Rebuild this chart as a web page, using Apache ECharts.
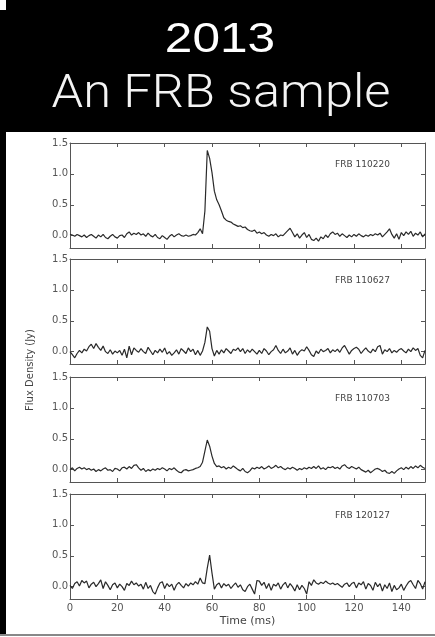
<!DOCTYPE html>
<html>
<head>
<meta charset="utf-8">
<script src="https://cdn.jsdelivr.net/npm/echarts@6/dist/echarts.min.js"></script>
<style>
  html, body { margin: 0; padding: 0; background: #fff; }
  #chart { width: 435px; height: 637px; }
</style>
</head>
<body>
<div id="chart"></div>
<script>
// sample times, 1 ms steps from 0 to 150 ms
const timeMs = Array.from({ length: 151 }, (_, i) => i);

const burstNames = ['FRB 110220', 'FRB 110627', 'FRB 110703', 'FRB 120127'];

const xTicks = [0, 20, 40, 60, 80, 100, 120, 140];
const yTicks = [0, 0.5, 1.0, 1.5];

// flux density (Jy), one value per ms
const flux110220 = [
  0.02, 0.01, -0.01, 0.02, 0.00, -0.02, 0.01, -0.03, 0.00, 0.02,
  -0.01, -0.04, 0.01, -0.02, 0.02, -0.03, -0.05, -0.01, 0.02, -0.02,
  -0.04, 0.00, 0.01, -0.03, 0.03, 0.06, 0.01, 0.04, 0.02, 0.05,
  0.01, 0.03, -0.01, 0.04, 0.00, -0.02, 0.02, -0.03, -0.05, 0.00,
  -0.03, -0.06, -0.01, 0.02, -0.02, 0.01, 0.03, 0.00, -0.01, 0.01,
  -0.01, 0.00, 0.02, 0.01, 0.05, 0.11, 0.03, 0.40, 1.38, 1.25,
  1.02, 0.72, 0.58, 0.50, 0.40, 0.29, 0.25, 0.23, 0.22, 0.19,
  0.17, 0.15, 0.16, 0.13, 0.14, 0.10, 0.08, 0.07, 0.09, 0.04,
  0.06, 0.03, 0.05, 0.01, -0.01, 0.02, 0.00, 0.03, -0.02, 0.01,
  0.00, 0.04, 0.08, 0.12, 0.05, -0.02, 0.03, -0.04, 0.01, 0.05,
  -0.03, 0.02, -0.06, -0.08, -0.04, -0.09, -0.02, -0.05, 0.01, -0.03,
  0.03, 0.06, 0.02, 0.04, -0.01, 0.03, 0.00, -0.03, 0.01, -0.02,
  0.02, -0.01, 0.03, 0.00, -0.02, 0.01, -0.01, 0.02, 0.00, 0.03,
  0.01, 0.04, -0.02, 0.02, 0.06, 0.11, 0.02, -0.04, 0.03, -0.06,
  0.05, 0.00, 0.06, 0.02, 0.07, -0.01, 0.04, 0.01, 0.06, -0.02, 0.03
];

const flux110627 = [
  0.00, -0.05, -0.10, -0.03, 0.02, -0.02, 0.04, 0.01, 0.08, 0.12,
  0.05, 0.13, 0.07, 0.02, 0.09, 0.00, -0.03, 0.03, -0.04, 0.01,
  -0.02, 0.02, -0.06, 0.04, -0.10, 0.09, -0.05, 0.06, 0.02, -0.01,
  0.05, 0.00, -0.03, 0.07, 0.01, -0.05, 0.02, -0.02, 0.04, -0.01,
  0.06, -0.04, 0.00, -0.06, -0.02, 0.03, -0.04, 0.05, 0.01, -0.03,
  0.06, 0.00, 0.04, -0.05, 0.02, -0.06, 0.01, 0.15, 0.40, 0.33,
  0.05, -0.07, 0.02, -0.04, 0.03, -0.02, 0.05, 0.01, -0.03, 0.04,
  0.02, 0.06, 0.00, 0.05, -0.03, 0.03, -0.01, 0.04, 0.00, -0.04,
  0.02, -0.03, 0.05, 0.01, -0.05, 0.00, 0.03, 0.10, 0.02, -0.03,
  0.04, -0.02, 0.01, 0.06, -0.04, 0.02, -0.06, 0.00, 0.03, 0.01,
  0.08, 0.02, -0.05, -0.08, 0.01, -0.03, 0.04, 0.00, 0.02, 0.05,
  -0.02, 0.03, 0.00, 0.04, -0.01, 0.06, 0.10, 0.03, -0.04, 0.02,
  0.05, 0.07, 0.04, -0.03, 0.02, 0.06, 0.01, -0.02, 0.04, 0.00,
  0.08, 0.10, -0.04, 0.03, 0.00, 0.05, -0.02, 0.02, -0.01, 0.03,
  0.05, 0.01, -0.02, 0.04, 0.00, 0.06, 0.02, 0.05, -0.06, -0.10, 0.02
];

const flux110703 = [
  0.00, 0.03, -0.02, 0.02, 0.04, 0.01, 0.03, 0.00, 0.02, -0.01,
  0.01, -0.03, 0.00, -0.02, 0.01, 0.03, -0.01, 0.00, -0.03, 0.02,
  0.01, -0.02, 0.03, 0.04, 0.01, 0.05, 0.02, 0.07, 0.08, 0.03,
  -0.01, 0.02, -0.03, 0.00, -0.02, 0.01, -0.01, 0.02, 0.00, 0.03,
  0.01, -0.02, 0.02, 0.00, 0.03, -0.01, -0.04, -0.05, -0.01, 0.00,
  -0.02, -0.01, 0.00, 0.02, 0.03, 0.05, 0.12, 0.30, 0.48, 0.38,
  0.22, 0.10, 0.05, 0.06, 0.03, 0.05, 0.01, 0.04, 0.02, 0.06,
  0.03, 0.00, -0.02, 0.02, -0.03, -0.05, -0.02, 0.03, 0.01, 0.04,
  0.02, 0.05, 0.01, 0.03, 0.06, 0.02, 0.04, 0.07, 0.03, 0.05,
  0.02, 0.00, 0.03, 0.01, 0.04, 0.02, -0.01, 0.02, 0.00, 0.03,
  0.01, 0.04, 0.02, 0.05, 0.02, 0.06, 0.01, 0.03, 0.00, 0.04,
  0.03, 0.05, 0.02, 0.04, 0.01, 0.06, 0.08, 0.04, 0.02, 0.05,
  0.03, 0.01, 0.04, 0.00, -0.02, -0.04, -0.01, -0.05, -0.02, 0.01,
  0.02, 0.00, -0.03, -0.01, -0.05, -0.06, -0.03, -0.06, -0.02, 0.01,
  0.03, 0.00, 0.04, 0.01, 0.05, 0.02, 0.06, 0.03, 0.07, 0.04, 0.02
];

const flux120127 = [
  0.02, -0.03, 0.05, 0.08, 0.01, 0.10, 0.06, 0.09, -0.02, 0.04,
  0.07, 0.00, 0.05, 0.11, -0.03, 0.08, 0.02, -0.05, 0.03, 0.06,
  -0.02, 0.04, 0.00, -0.06, 0.05, 0.02, 0.09, 0.03, 0.06, 0.01,
  0.04, -0.04, 0.07, -0.03, 0.02, -0.08, -0.12, -0.02, 0.06, 0.08,
  -0.03, 0.05, 0.00, 0.04, -0.06, 0.03, 0.07, 0.02, -0.02, 0.05,
  0.01, 0.06, 0.03, 0.08, 0.04, 0.14, 0.06, 0.05, 0.30, 0.51,
  0.22, -0.04, 0.03, 0.06, -0.02, 0.05, 0.01, 0.04, -0.03, 0.02,
  0.06, -0.01, 0.03, -0.05, -0.08, 0.00, 0.04, -0.04, -0.12, 0.10,
  0.09, 0.02, 0.07, -0.03, 0.05, -0.06, 0.04, 0.01, 0.06, -0.04,
  0.03, 0.07, -0.02, 0.05, 0.00, -0.07, 0.03, -0.05, 0.02, -0.03,
  -0.12, 0.08, 0.02, 0.11, 0.06, 0.04, 0.07, 0.05, 0.09, 0.06,
  0.04, 0.06, 0.03, 0.05, 0.02, -0.01, 0.04, 0.06, 0.00, 0.05,
  0.07, -0.02, 0.06, 0.03, 0.08, -0.04, 0.05, 0.02, -0.06, 0.07,
  0.00, 0.05, -0.07, 0.03, -0.03, 0.06, -0.08, 0.02, -0.05, -0.02,
  0.04, -0.06, 0.01, 0.07, 0.10, 0.03, -0.03, 0.10, 0.05, -0.04, 0.08
];

const fluxSeries = [flux110220, flux110627, flux110703, flux120127];

/* ========================
    Layout
========================= */
const panelTops = [143, 259, 377, 494];
const panelHeight = 105;
const axisColor = '#555';
const labelFont = 'DejaVu Sans';

const chart = echarts.init(document.getElementById('chart'), null, { renderer: 'canvas' });

const grids = [], xAxes = [], yAxes = [], series = [];

panelTops.forEach((top, i) => {
    grids.push({ left: 70, right: 10, top: top, height: panelHeight });
    const isLast = i === panelTops.length - 1;

    ['bottom', 'top'].forEach(pos => {
        xAxes.push({
            type: 'value', gridIndex: i, position: pos,
            min: 0, max: 150,
            axisLine: { show: true, onZero: false, lineStyle: { color: axisColor, width: 1 } },
            axisTick: { show: true, inside: true, length: 4, customValues: xTicks, lineStyle: { color: axisColor } },
            axisLabel: {
                show: pos === 'bottom' && isLast, customValues: xTicks, margin: 4,
                color: '#555', fontFamily: labelFont, fontSize: 10
            },
            splitLine: { show: false },
            name: pos === 'bottom' && isLast ? 'Time (ms)' : '',
            nameLocation: 'middle', nameGap: 17,
            nameTextStyle: { color: '#444', fontFamily: labelFont, fontSize: 11 }
        });
    });

    ['left', 'right'].forEach(pos => {
        yAxes.push({
            type: 'value', gridIndex: i, position: pos,
            min: -0.2, max: 1.5,
            axisLine: { show: true, onZero: false, lineStyle: { color: axisColor, width: 1 } },
            axisTick: { show: true, inside: true, length: 4, customValues: yTicks, lineStyle: { color: axisColor } },
            axisLabel: {
                show: pos === 'left', customValues: yTicks, margin: 2,
                color: '#555', fontFamily: labelFont, fontSize: 10,
                formatter: v => v.toFixed(1)
            },
            splitLine: { show: false }
        });
    });

    series.push({
        type: 'line',
        xAxisIndex: i * 2,
        yAxisIndex: i * 2,
        showSymbol: false,
        silent: true,
        lineStyle: { color: '#2a2a2a', width: 1.2 },
        data: timeMs.map((t, k) => [t, fluxSeries[i][k]]),
        markPoint: {
            symbol: 'circle', symbolSize: 0, silent: true,
            label: {
                show: true, position: 'right', distance: 0,
                color: '#444', fontFamily: labelFont, fontSize: 9,
                formatter: burstNames[i]
            },
            data: [{ coord: [112, 1.15] }]
        }
    });
});

chart.setOption({
    animation: false,
    backgroundColor: '#fff',
    grid: grids,
    xAxis: xAxes,
    yAxis: yAxes,
    series: series,
    graphic: [
        // slide frame
        { type: 'rect', shape: { x: 0, y: 10, width: 6, height: 624 }, style: { fill: '#000' } },
        { type: 'rect', shape: { x: 6, y: 0, width: 429, height: 132 }, style: { fill: '#000' } },
        { type: 'rect', shape: { x: 0, y: 634, width: 435, height: 2 }, style: { fill: '#888' } },
        {
            type: 'text', x: 220, y: 40, scaleX: 1.18,
            style: { text: '2013', fill: '#fff', font: '42px "Liberation Sans"', textAlign: 'center', textVerticalAlign: 'middle' }
        },
        {
            type: 'text', x: 221, y: 95, scaleX: 1.1,
            style: { text: 'An FRB sample', fill: '#f4f4f4', font: '300 46px Roboto, "Liberation Sans"', textAlign: 'center', textVerticalAlign: 'middle' }
        },
        {
            type: 'text', x: 30, y: 370, rotation: Math.PI / 2,
            style: { text: 'Flux Density (Jy)', fill: '#444', font: '10px "DejaVu Sans"', textAlign: 'center', textVerticalAlign: 'middle' }
        }
    ]
});
</script>
</body>
</html>
